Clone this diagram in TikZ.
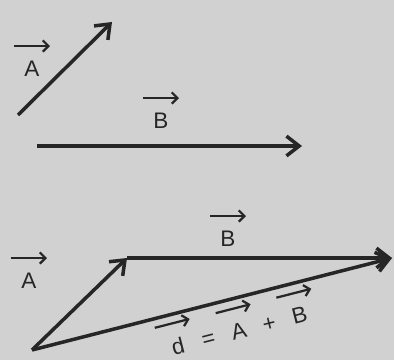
\documentclass[tikz,border=0pt]{standalone}
\usepackage{fontspec}
\setmainfont{Liberation Sans}
\usepackage{tikz}
\usetikzlibrary{arrows.meta, positioning}
\tikzset{vector/.style={line width=2.5pt, -{Straight Barb[length=9pt,width=14pt,line width=2.5pt]}, black!85}}
\tikzset{veclabel/.style={inner sep=0pt, font=\fontsize{16}{18}\selectfont, text=black!85}}
\newcommand\vlab[1]{\shortstack{\tikz\draw[line width=1.6pt, -{Straight Barb[length=4pt,width=8pt,line width=1.6pt]}] (0,0) -- (0.9cm,0);\\[3pt]#1}}

\begin{document}
\begin{tikzpicture}[x=0.025cm, y=-0.025cm]
    \useasboundingbox[fill=black!18] (0,0) rectangle (394,360);
    % Points
    \coordinate (a1) at (18,115);
    \coordinate (a2) at (112,22);
    \coordinate (b1) at (37,146);
    \coordinate (b2) at (302,146);
    \coordinate (p) at (32,350);
    \coordinate (q) at (127,258);
    \coordinate (r) at (392,258);

    % Labels
    \node (lA1) [veclabel] at (32,58) {\vlab{A}};
    \node (lB1) [veclabel] at (161,110) {\vlab{B}};
    \node (lA2) [veclabel] at (29,270) {\vlab{A}};
    \node (lB2) [veclabel] at (228,228) {\vlab{B}};
    \node (lR) [veclabel, rotate=14.3] at (236,320) {\vlab{d}\hspace{0.25em}=\hspace{0.25em}\vlab{A}\hspace{0.25em}+\hspace{0.25em}\vlab{B}};

    % Vectors
    \draw [vector] (a1) -- (a2);
    \draw [vector] (b1) -- (b2);
    \draw [vector] (p) -- (q);
    \draw [vector] (q) -- (r);
    \draw [vector] (p) -- (r);
\end{tikzpicture}
\end{document}
